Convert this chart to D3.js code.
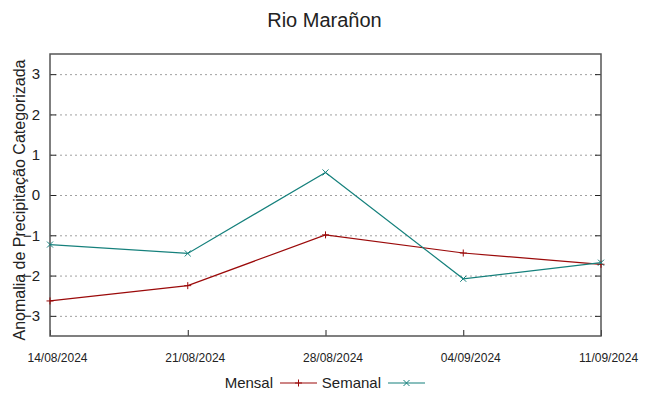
<!DOCTYPE html>
<html>
<head>
<meta charset="utf-8">
<script src="https://cdn.jsdelivr.net/npm/d3@7"></script>
<style>
  body { margin: 0; background: #fff; }
  text { font-family: "Liberation Sans", Arial, sans-serif; fill: #222; }
</style>
</head>
<body>
<svg width="649" height="396"></svg>
<script>
// data
var dates = ["2024-08-14", "2024-08-21", "2024-08-28", "2024-09-04", "2024-09-11"];
var mensal = [-2.63, -2.25, -0.99, -1.44, -1.72];
var semanal = [-1.23, -1.45, 0.56, -2.08, -1.68];
var yTicks = [-3, -2, -1, 0, 1, 2, 3];

var svg = d3.select("svg"),
    width = +svg.attr("width"),
    height = +svg.attr("height");

var margin = {left: 50, right: 48, top: 54, bottom: 60};
var parse = d3.timeParse("%Y-%m-%d");
var days = dates.map(parse);

var x = d3.scaleTime()
    .domain([days[0], days[days.length - 1]])
    .range([margin.left, width - margin.right]);
var y = d3.scaleLinear()
    .domain([-3.5, 3.5])
    .range([height - margin.bottom, margin.top]);

// grid
svg.append("g")
  .selectAll("line")
  .data(yTicks)
  .enter().append("line")
    .attr("x1", margin.left)
    .attr("x2", width - margin.right)
    .attr("y1", function(d){ return y(d) + 0.5 })
    .attr("y2", function(d){ return y(d) + 0.5 })
    .attr("stroke", "#a0a0a0")
    .attr("stroke-width", 1)
    .attr("stroke-dasharray", "2,3");

// y axis left (ticks inward)
var yAxis = svg.append("g")
    .attr("transform", "translate(" + margin.left + ",0)")
    .call(d3.axisLeft(y).tickValues(yTicks).tickSize(-6).tickPadding(10).tickFormat(d3.format("d")));
yAxis.select(".domain").remove();
yAxis.selectAll("line").attr("stroke", "#222");
yAxis.selectAll("text").style("font-size", "15px").attr("fill", "#222");

// y axis right mirror ticks
var yAxisR = svg.append("g")
    .attr("transform", "translate(" + (width - margin.right) + ",0)")
    .call(d3.axisRight(y).tickValues(yTicks).tickSize(-6).tickFormat(""));
yAxisR.select(".domain").remove();
yAxisR.selectAll("line").attr("stroke", "#222");

// x axis bottom
var xAxis = svg.append("g")
    .attr("transform", "translate(0," + (height - margin.bottom) + ")")
    .call(d3.axisBottom(x).tickValues(days).tickSize(-6).tickPadding(17).tickFormat(d3.timeFormat("%d/%m/%Y")));
xAxis.select(".domain").remove();
xAxis.selectAll("line").attr("stroke", "#222");
xAxis.selectAll("text").style("font-size", "12px").attr("fill", "#222").attr("dx", 7);

// frame
svg.append("rect")
    .attr("x", margin.left)
    .attr("y", margin.top)
    .attr("width", width - margin.left - margin.right)
    .attr("height", height - margin.top - margin.bottom)
    .attr("fill", "none")
    .attr("stroke", "#555")
    .attr("stroke-width", 1.5);

var series = [
  {name: "Mensal", values: mensal, color: "#9b0a0a", marker: "plus"},
  {name: "Semanal", values: semanal, color: "#15807c", marker: "cross"}
];

var line = d3.line()
    .x(function(d, i){ return x(days[i]) })
    .y(function(d){ return y(d) });

function markerPath(type, cx, cy, s) {
  if (type == "plus")
    return "M" + (cx - s) + "," + cy + "H" + (cx + s) + "M" + cx + "," + (cy - s) + "V" + (cy + s);
  return "M" + (cx - s) + "," + (cy - s) + "L" + (cx + s) + "," + (cy + s) +
         "M" + (cx - s) + "," + (cy + s) + "L" + (cx + s) + "," + (cy - s);
}

series.forEach(function(s){
  svg.append("path")
    .datum(s.values)
    .attr("fill", "none")
    .attr("stroke", s.color)
    .attr("stroke-width", 1.2)
    .attr("d", line);
  svg.append("g")
    .selectAll("path")
    .data(s.values)
    .enter().append("path")
      .attr("d", function(d, i){ return markerPath(s.marker, x(days[i]), y(d), s.marker == "plus" ? 3.5 : 3) })
      .attr("stroke", s.color)
      .attr("stroke-width", 1)
      .attr("fill", "none");
});

// title
svg.append("text")
    .attr("x", width / 2)
    .attr("y", 27)
    .attr("text-anchor", "middle")
    .style("font-size", "20px")
    .text("Rio Marañon");

// y label
svg.append("text")
    .attr("transform", "translate(25,200) rotate(-90)")
    .attr("text-anchor", "middle")
    .style("font-size", "16px")
    .text("Anomalia de Precipitação Categorizada");

// legend
var legend = [
  {name: "Mensal", xe: 273, color: series[0].color, marker: "plus"},
  {name: "Semanal", xe: 381, color: series[1].color, marker: "cross"}
];
var ly = 383;
legend.forEach(function(l){
  svg.append("text")
    .attr("x", l.xe)
    .attr("y", ly + 5)
    .attr("text-anchor", "end")
    .style("font-size", "15px")
    .text(l.name);
  svg.append("line")
    .attr("x1", l.xe + 7).attr("x2", l.xe + 44)
    .attr("y1", ly).attr("y2", ly)
    .attr("stroke", l.color).attr("stroke-width", 1.2);
  svg.append("path")
    .attr("d", markerPath(l.marker, l.xe + 25.5, ly, l.marker == "plus" ? 3.5 : 3))
    .attr("stroke", l.color).attr("fill", "none");
});
</script>
</body>
</html>
